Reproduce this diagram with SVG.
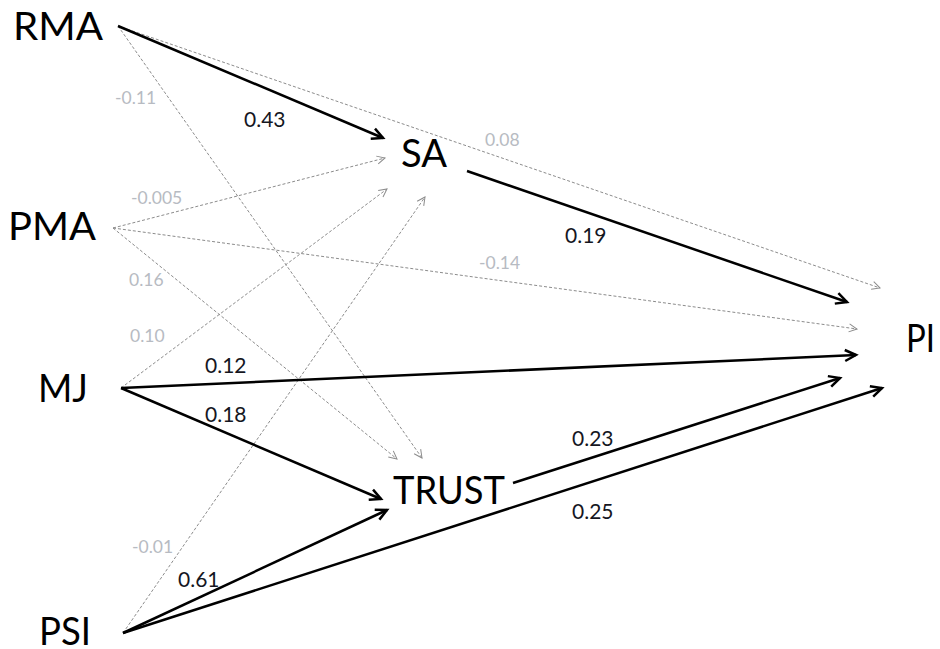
<svg xmlns="http://www.w3.org/2000/svg" width="940" height="649" viewBox="0 0 940 649">
  <style>
    .node { font-family: Lato, "Open Sans", "Liberation Sans", sans-serif; font-size: 39px; fill: #000; }
    .bold { stroke: #000; stroke-width: 2.5; fill: none; }
    .dash { stroke: #8c8c8c; stroke-width: 1; stroke-dasharray: 3 2; fill: none; }
    .coef { font-family: Lato, "Open Sans", "Liberation Sans", sans-serif; font-size: 21px; fill: #15171f; }
    .coef-ns { font-family: Lato, "Open Sans", "Liberation Sans", sans-serif; font-size: 17.5px; fill: #b7bbc2; }
  </style>
  <defs>
    <marker id="arrow-bold" markerUnits="userSpaceOnUse" markerWidth="18" markerHeight="18" refX="13" refY="7" orient="auto">
      <path d="M2,1.5 L13,7 L2,12.5" fill="none" stroke="#000" stroke-width="2.5" stroke-dasharray="none"/>
    </marker>
    <marker id="arrow-dash" markerUnits="userSpaceOnUse" markerWidth="14" markerHeight="14" refX="9" refY="5" orient="auto">
      <path d="M1,1 L9,5 L1,9" fill="none" stroke="#8c8c8c" stroke-width="1" stroke-dasharray="none"/>
    </marker>
  </defs>

  <rect width="940" height="649" fill="#fff"/>

  <!-- paths between constructs -->
  <g id="connectors">
    <!-- non-significant paths (dashed) -->
    <line class="dash" x1="118" y1="26" x2="880" y2="288" marker-end="url(#arrow-dash)"/>
    <line class="dash" x1="118" y1="26" x2="422" y2="458" marker-end="url(#arrow-dash)"/>
    <line class="dash" x1="113" y1="228" x2="385" y2="158" marker-end="url(#arrow-dash)"/>
    <line class="dash" x1="113" y1="228" x2="857" y2="329" marker-end="url(#arrow-dash)"/>
    <line class="dash" x1="113" y1="228" x2="397" y2="459" marker-end="url(#arrow-dash)"/>
    <line class="dash" x1="121" y1="388" x2="387" y2="189" marker-end="url(#arrow-dash)"/>
    <line class="dash" x1="123" y1="633" x2="425" y2="197" marker-end="url(#arrow-dash)"/>

    <!-- significant paths (solid) -->
    <line class="bold" x1="118" y1="26" x2="383" y2="138" marker-end="url(#arrow-bold)"/>
    <line class="bold" x1="467" y1="171" x2="847" y2="302" marker-end="url(#arrow-bold)"/>
    <line class="bold" x1="121" y1="388" x2="856" y2="355" marker-end="url(#arrow-bold)"/>
    <line class="bold" x1="121" y1="388" x2="381" y2="499" marker-end="url(#arrow-bold)"/>
    <line class="bold" x1="123" y1="633" x2="387" y2="510" marker-end="url(#arrow-bold)"/>
    <line class="bold" x1="123" y1="633" x2="882" y2="388" marker-end="url(#arrow-bold)"/>
    <line class="bold" x1="513" y1="483" x2="840" y2="378" marker-end="url(#arrow-bold)"/>
  </g>

  <!-- path coefficients -->
  <g id="coefficients">
    <text class="coef" x="244" y="127">0.43</text>
    <text class="coef" x="565" y="243">0.19</text>
    <text class="coef" x="205" y="373">0.12</text>
    <text class="coef" x="205" y="422">0.18</text>
    <text class="coef" x="572" y="446">0.23</text>
    <text class="coef" x="572" y="519">0.25</text>
    <text class="coef" x="178" y="587">0.61</text>

    <text class="coef-ns" x="115" y="104">-0.11</text>
    <text class="coef-ns" x="131" y="204">-0.005</text>
    <text class="coef-ns" x="485" y="146">0.08</text>
    <text class="coef-ns" x="479" y="269">-0.14</text>
    <text class="coef-ns" x="129" y="286">0.16</text>
    <text class="coef-ns" x="130" y="342">0.10</text>
    <text class="coef-ns" x="132" y="553">-0.01</text>
  </g>

  <!-- constructs -->
  <g id="node-rma"><text class="node" x="13" y="40" textLength="90" lengthAdjust="spacingAndGlyphs">RMA</text></g>
  <g id="node-pma"><text class="node" x="8" y="240" textLength="88" lengthAdjust="spacingAndGlyphs">PMA</text></g>
  <g id="node-mj"><text class="node" x="38" y="402" textLength="50" lengthAdjust="spacingAndGlyphs">MJ</text></g>
  <g id="node-psi"><text class="node" x="39" y="645" textLength="52" lengthAdjust="spacingAndGlyphs">PSI</text></g>
  <g id="node-sa"><text class="node" x="401" y="167" textLength="46" lengthAdjust="spacingAndGlyphs">SA</text></g>
  <g id="node-trust"><text class="node" x="393" y="504" textLength="112" lengthAdjust="spacingAndGlyphs">TRUST</text></g>
  <g id="node-pi"><text class="node" x="906" y="352" textLength="29" lengthAdjust="spacingAndGlyphs">PI</text></g>
</svg>
